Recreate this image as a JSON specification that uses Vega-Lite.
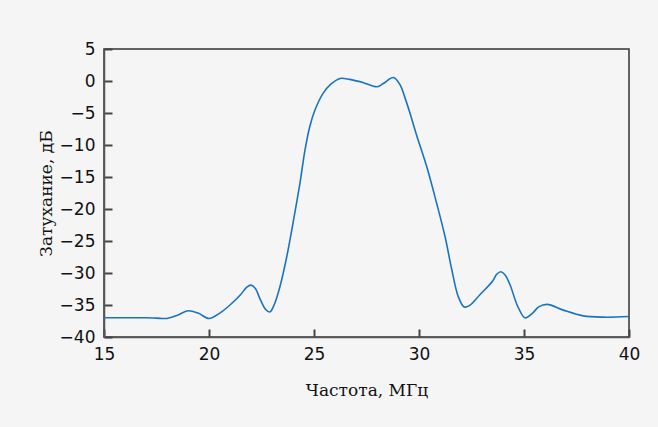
{
  "$schema": "https://vega.github.io/schema/vega-lite/v6.json",
  "autosize": {"type": "none"},
  "width": 525,
  "height": 288,
  "padding": {"left": 104, "top": 49, "right": 29, "bottom": 90},
  "background": "#f5f5f5",
  "config": {
    "view": {"stroke": "#333", "strokeWidth": 1.5, "fill": "#f5f5f5"},
    "axis": {
      "grid": false,
      "ticks": true,
      "domain": true,
      "domainColor": "#555",
      "domainWidth": 1.5,
      "tickColor": "#444",
      "tickWidth": 2,
      "tickSize": -8,
      "labelFont": "DejaVu Sans",
      "labelFontSize": 17,
      "labelColor": "#111",
      "titleFont": "DejaVu Serif",
      "titleFontSize": 17,
      "titleFontWeight": "normal",
      "titleColor": "#111"
    }
  },
  "data": {
    "values": [
      {"f": 15, "a": -37},
      {"f": 16, "a": -37},
      {"f": 17, "a": -37},
      {"f": 17.5, "a": -37.05},
      {"f": 18, "a": -37.1},
      {"f": 18.5, "a": -36.6},
      {"f": 19, "a": -35.9},
      {"f": 19.5, "a": -36.3},
      {"f": 20, "a": -37.1},
      {"f": 20.5, "a": -36.3},
      {"f": 21, "a": -35.0},
      {"f": 21.5, "a": -33.4},
      {"f": 21.8, "a": -32.2},
      {"f": 22, "a": -31.9},
      {"f": 22.2, "a": -32.4},
      {"f": 22.45, "a": -34.2},
      {"f": 22.7, "a": -35.7},
      {"f": 22.9, "a": -36.1},
      {"f": 23.1, "a": -35.0},
      {"f": 23.38, "a": -32.1},
      {"f": 23.7, "a": -27.5},
      {"f": 24.0, "a": -22.2},
      {"f": 24.33, "a": -16.0},
      {"f": 24.57, "a": -10.8},
      {"f": 24.8, "a": -7.1},
      {"f": 25.05, "a": -4.5},
      {"f": 25.44, "a": -1.9},
      {"f": 25.8, "a": -0.5},
      {"f": 26.24, "a": 0.4},
      {"f": 26.7, "a": 0.25},
      {"f": 27.35, "a": -0.26},
      {"f": 28.0, "a": -0.9},
      {"f": 28.3, "a": -0.4},
      {"f": 28.78, "a": 0.55},
      {"f": 29.1, "a": -0.6},
      {"f": 29.33, "a": -2.6},
      {"f": 29.55, "a": -4.8},
      {"f": 29.89, "a": -8.5},
      {"f": 30.37, "a": -13.4},
      {"f": 30.84, "a": -19.1},
      {"f": 31.24, "a": -24.3},
      {"f": 31.55, "a": -29.3},
      {"f": 31.87, "a": -33.7},
      {"f": 32.15, "a": -35.3},
      {"f": 32.4, "a": -35.1},
      {"f": 32.9, "a": -33.4},
      {"f": 33.5, "a": -31.3},
      {"f": 33.7, "a": -30.2},
      {"f": 33.9, "a": -29.8},
      {"f": 34.1, "a": -30.3},
      {"f": 34.33, "a": -31.8},
      {"f": 34.7, "a": -35.2},
      {"f": 35.05, "a": -37.0},
      {"f": 35.4, "a": -36.3},
      {"f": 35.7, "a": -35.3},
      {"f": 36.1, "a": -34.9},
      {"f": 36.87, "a": -35.8},
      {"f": 37.82, "a": -36.7},
      {"f": 38.78, "a": -36.9},
      {"f": 40, "a": -36.8}
    ]
  },
  "mark": {"type": "line", "interpolate": "catmull-rom", "color": "#1a73c0", "strokeWidth": 1.6},
  "encoding": {
    "x": {
      "field": "f",
      "type": "quantitative",
      "scale": {"domain": [15, 40], "nice": false},
      "axis": {"title": "Частота, МГц", "values": [15, 20, 25, 30, 35, 40], "labelPadding": 17, "labelFlush": false, "titleY": 58, "titleBaseline": "alphabetic"}
    },
    "y": {
      "field": "a",
      "type": "quantitative",
      "scale": {"domain": [-40, 5], "nice": false, "zero": false},
      "axis": {"title": "Затухание, дБ", "values": [-40, -35, -30, -25, -20, -15, -10, -5, 0, 5], "labelPadding": 17, "labelFlush": false, "titleX": -53, "titleBaseline": "alphabetic"}
    }
  }
}
